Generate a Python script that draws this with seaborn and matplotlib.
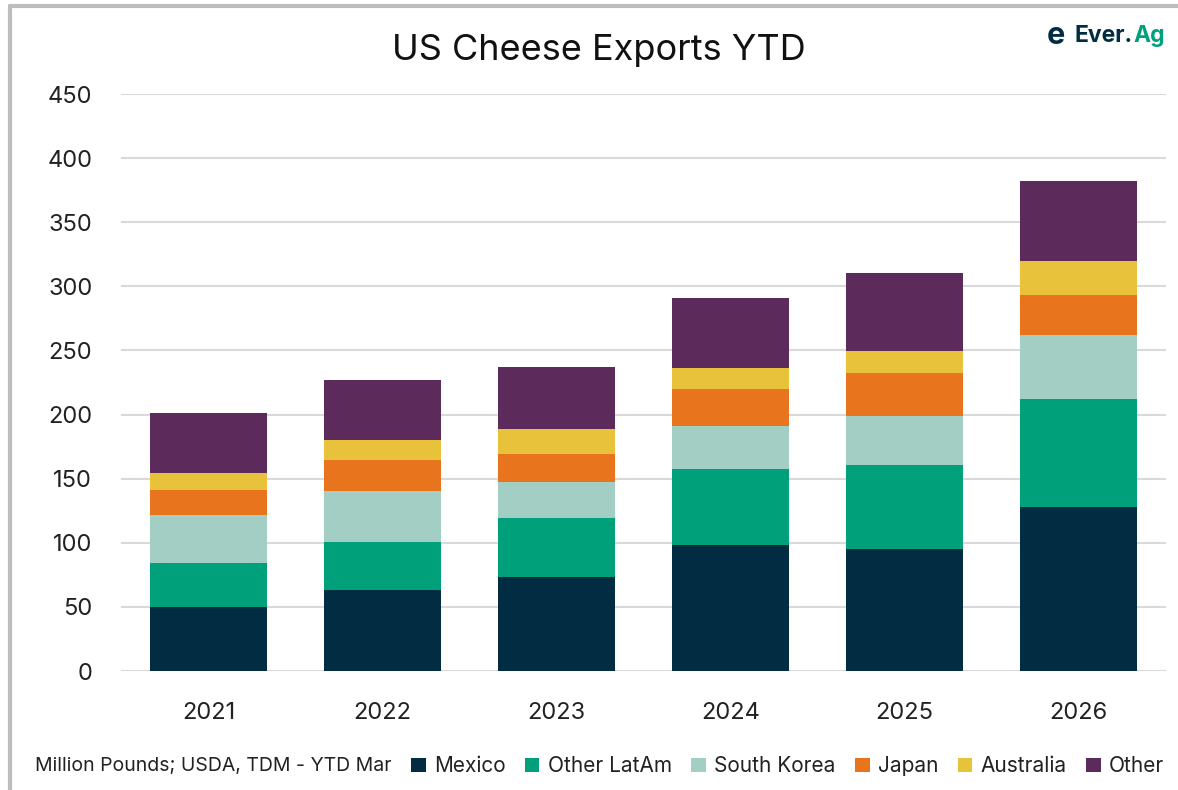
import numpy as np
import pandas as pd
import matplotlib
matplotlib.use("Agg")
import matplotlib.pyplot as plt
from matplotlib.patches import Patch
from matplotlib.lines import Line2D
import seaborn as sns

# Year-to-date (Jan-Mar) US cheese exports, million pounds
years = ["2021", "2022", "2023", "2024", "2025", "2026"]
mexico = [49.7, 63.3, 73.2, 98.2, 95.3, 127.9]
other_latam = [34.4, 37.7, 46.1, 59.4, 65.1, 84.6]
south_korea = [37.2, 39.4, 27.9, 33.8, 38.3, 49.8]
japan = [19.6, 23.9, 22.4, 28.7, 34.1, 31.2]
australia = [13.5, 16.2, 19.5, 16.1, 17.0, 26.3]
other = [46.9, 46.1, 47.7, 54.4, 60.4, 62.5]

regions = ["Mexico", "Other LatAm", "South Korea", "Japan", "Australia", "Other"]
series = [mexico, other_latam, south_korea, japan, australia, other]
colors = ["#012c41", "#00a07b", "#a2cec3", "#e8751e", "#e8c23a", "#5c2a5b"]

sns.set_theme(style="white")
plt.rcParams["font.family"] = ["Inter", "DejaVu Sans"]

fig = plt.figure(figsize=(11.78, 7.90), dpi=100)
ax = fig.add_axes([0.1031, 0.1506, 0.8863, 0.7304])

# Stacked bars: draw cumulative totals from the top layer down
tops = np.cumsum(np.array(series, dtype=float), axis=0)
for i in range(len(regions) - 1, -1, -1):
    df = pd.DataFrame({"year": years, "value": tops[i]})
    sns.barplot(data=df, x="year", y="value", color=colors[i], width=0.672,
                saturation=1, ax=ax, edgecolor="none", linewidth=0, zorder=3)

ax.set_ylim(0, 450)
ax.set_yticks(range(0, 451, 50))
ax.set_xlabel("")
ax.set_ylabel("")
ax.grid(axis="y", color="#d9d9d9", linewidth=1.5, zorder=0)
ax.grid(axis="x", visible=False)
for s in ax.spines.values():
    s.set_visible(False)
ax.tick_params(axis="y", length=0, pad=21, labelsize=17, labelcolor="#222222")
ax.tick_params(axis="x", length=0, pad=22, labelsize=17, labelcolor="#222222")

fig.text(0.508, 0.936, "US Cheese Exports YTD", ha="center", va="center",
         fontsize=26, color="#111111")

# Brand mark: icon glyph, then "Ever." and "Ag" set side by side
fig.text(0.8965, 0.954, "e", ha="center", va="center", fontsize=22,
         fontweight="bold", color="#012c41")
t1 = fig.text(0.9125, 0.954, "Ever.", ha="left", va="center", fontsize=16.5,
              fontweight="bold", color="#012c41")
fig.canvas.draw()
bb = t1.get_window_extent(renderer=fig.canvas.get_renderer())
x_next = fig.transFigure.inverted().transform((bb.x1, bb.y0))[0]
fig.text(x_next, 0.954, "Ag", ha="left", va="center", fontsize=16.5,
         fontweight="bold", color="#00a07b")

# Source note and legend
fig.text(0.030, 0.030, "Million Pounds; USDA, TDM - YTD Mar", ha="left",
         va="center", fontsize=14, color="#222222")
handles = [Patch(facecolor=c, edgecolor="none") for c in colors]
fig.legend(handles, regions, loc="center left", bbox_to_anchor=(0.340, 0.030),
           ncol=6, frameon=False, fontsize=15, handlelength=0.7,
           handleheight=0.7, handletextpad=0.4, columnspacing=0.93,
           borderpad=0, labelcolor="#222222")

# Frame edges
fig.add_artist(Line2D([0.0085, 0.0085], [0.0, 0.9925], color="#bdbdbd",
                      linewidth=3, transform=fig.transFigure))
fig.add_artist(Line2D([0.0085, 1.0], [0.9925, 0.9925], color="#bdbdbd",
                      linewidth=3, transform=fig.transFigure))

fig.savefig("out.png", dpi=100, facecolor="white")
